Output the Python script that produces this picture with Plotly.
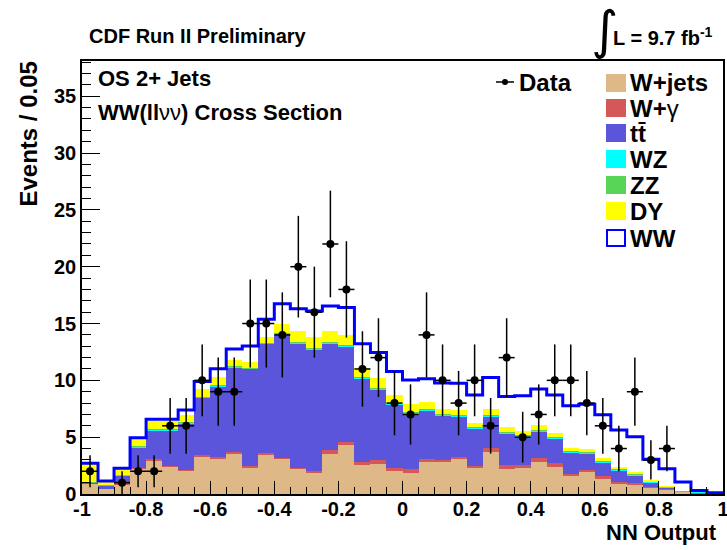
import numpy as np
import plotly.graph_objects as go

# ---------------- data (40 bins of width 0.05 on [-1, 1]) ----------------
bin_edges = np.round(np.linspace(-1.0, 1.0, 41), 4)
bin_centers = 0.5 * (bin_edges[:-1] + bin_edges[1:])
bin_width = 0.05

data_counts = [2, 0, 1, 2, 2, 6, 6, 10, 9, 9,
               15, 15, 14, 20, 16, 22, 18, 11, 12, 8,
               7, 14, 10, 8, 10, 6, 12, 5, 7, 10,
               10, 8, 6, 4, 9, 3, 4, 0, 0, 0]

wjets = [0.94, 0.44, 0.85, 2.23, 2.93, 2.40, 2.08, 3.29, 3.14, 3.58,
         2.26, 3.49, 3.08, 2.20, 1.82, 3.52, 4.31, 2.55, 2.64, 2.05,
         1.88, 2.79, 2.79, 3.05, 2.26, 3.67, 2.17, 2.26, 2.85, 2.40,
         1.61, 1.97, 1.32, 0.94, 0.82, 0.56, 0.38, 0.18, 0.08, 0.04]

wgamma = [0.00, 0.01, 0.02, 0.08, 0.12, 0.06, 0.04, 0.11, 0.12, 0.10,
          0.22, 0.12, 0.12, 0.09, 0.18, 0.35, 0.24, 0.24, 0.32, 0.24,
          0.35, 0.26, 0.20, 0.21, 0.20, 0.38, 0.35, 0.29, 0.35, 0.33,
          0.18, 0.17, 0.26, 0.15, 0.15, 0.09, 0.06, 0.02, 0.01, 0.00]

ttbar = [0.04, 0.27, 0.78, 1.77, 2.55, 3.14, 4.10, 5.05, 6.24, 7.44,
         8.52, 9.59, 10.85, 10.93, 10.72, 9.35, 8.41, 7.38, 6.24, 5.55,
         4.87, 4.31, 3.94, 3.57, 3.32, 2.80, 2.84, 2.50, 2.33, 2.17,
         1.86, 1.42, 1.22, 1.01, 0.69, 0.39, 0.14, 0.02, 0.01, 0.00]

wz = [0.02, 0.02, 0.04, 0.08, 0.08, 0.08, 0.08, 0.08, 0.08, 0.08,
      0.08, 0.08, 0.08, 0.08, 0.08, 0.08, 0.08, 0.08, 0.08, 0.08,
      0.08, 0.08, 0.08, 0.08, 0.08, 0.08, 0.08, 0.08, 0.08, 0.08,
      0.08, 0.08, 0.08, 0.08, 0.08, 0.06, 0.05, 0.02, 0.01, 0.00]

zz = [0.02, 0.01, 0.02, 0.04, 0.04, 0.04, 0.04, 0.04, 0.04, 0.04,
      0.04, 0.04, 0.04, 0.04, 0.04, 0.04, 0.04, 0.04, 0.04, 0.04,
      0.04, 0.04, 0.04, 0.04, 0.04, 0.04, 0.04, 0.04, 0.04, 0.04,
      0.04, 0.04, 0.04, 0.04, 0.04, 0.04, 0.05, 0.01, 0.00, 0.00]

dy = [1.62, 0.31, 0.46, 0.61, 0.73, 0.73, 0.61, 0.67, 0.68, 0.56,
      0.53, 0.53, 0.79, 0.96, 0.95, 1.01, 0.92, 0.77, 0.92, 0.75,
      0.70, 0.65, 0.43, 0.44, 0.38, 0.49, 0.42, 0.35, 0.42, 0.38,
      0.31, 0.31, 0.28, 0.19, 0.13, 0.06, 0.02, 0.00, 0.00, 0.00]

ww = [0.06, 0.08, 0.09, 0.15, 0.13, 0.13, 0.44, 0.65, 0.73, 0.96,
      1.38, 1.53, 1.77, 1.99, 2.32, 2.20, 2.40, 2.17, 2.20, 2.06,
      2.12, 2.02, 2.29, 2.35, 2.43, 2.78, 2.67, 3.13, 3.17, 3.31,
      3.69, 3.91, 3.78, 3.22, 3.13, 1.85, 1.53, 0.81, 0.19, 0.07]

x_tick_vals = [-1, -0.8, -0.6, -0.4, -0.2, 0, 0.2, 0.4, 0.6, 0.8, 1]
x_tick_text = ["-1", "-0.8", "-0.6", "-0.4", "-0.2", "0", "0.2", "0.4", "0.6", "0.8", "1"]
y_tick_vals = [0, 5, 10, 15, 20, 25, 30, 35]

# ---------------- styling ----------------
W, H = 727, 550
L_M, R_M, T_M, B_M = 82, 4, 61, 56
PW, PH = W - L_M - R_M, H - T_M - B_M
FONT = "Liberation Sans, Arial, sans-serif"

C_WJ = "rgb(222,185,135)"
C_WG = "rgb(212,88,88)"
C_TT = "rgb(90,85,218)"
C_WZ = "rgb(0,255,255)"
C_ZZ = "rgb(88,212,86)"
C_DY = "rgb(255,255,0)"
C_WW = "rgb(0,0,255)"


def px(xp):
    return (xp - L_M) / PW


def py(yp):
    return (H - B_M - yp) / PH


fig = go.Figure()

stack = [("W+jets", wjets, C_WJ), ("W+γ", wgamma, C_WG), ("tt̄", ttbar, C_TT),
         ("WZ", wz, C_WZ), ("ZZ", zz, C_ZZ), ("DY", dy, C_DY)]
for name, vals, col in stack:
    fig.add_trace(go.Bar(x=bin_centers, y=vals, width=bin_width, name=name,
                         marker=dict(color=col, line=dict(width=0)),
                         showlegend=False, hoverinfo="skip"))

total = np.sum([wjets, wgamma, ttbar, wz, zz, dy, ww], axis=0)
fig.add_trace(go.Scatter(x=bin_edges, y=list(total) + [total[-1]], mode="lines",
                         line=dict(color=C_WW, width=3, shape="hv"),
                         name="WW", showlegend=False, hoverinfo="skip"))

counts = np.array(data_counts, dtype=float)
y_pts = [c if c > 0 else None for c in data_counts]
fig.add_trace(go.Scatter(x=bin_centers, y=y_pts, mode="markers", name="Data",
                         marker=dict(color="black", size=8),
                         error_y=dict(type="data", array=np.sqrt(counts), width=0,
                                      thickness=1.5, color="black"),
                         error_x=dict(type="constant", value=bin_width / 2, width=0,
                                      thickness=1.5, color="black"),
                         showlegend=False))

# ---------------- annotations ----------------
ann = []
shapes = []


def text(x, y, s, size, xanchor="left", yanchor="middle", angle=0):
    ann.append(dict(x=px(x), y=py(y), xref="paper", yref="paper", text=s,
                    showarrow=False, xanchor=xanchor, yanchor=yanchor,
                    textangle=angle, font=dict(family=FONT, size=size, color="black")))


text(87, 36, "<b>CDF Run II Preliminary</b>", 20)
ann.append(dict(x=px(604), y=py(30), xref="paper", yref="paper", text="∫",
                showarrow=False, xanchor="center", yanchor="middle",
                font=dict(family="DejaVu Sans, sans-serif", size=52, color="black")))
text(611, 37, "<b>L = 9.7 fb<sup>-1</sup></b>", 20)
text(96, 79, "<b>OS 2+ Jets</b>", 22)
text(96, 112, "<b>WW(ll</b>νν<b>) Cross Section</b>", 22)
text(28, 60, "<b>Events / 0.05</b>", 24, xanchor="center", yanchor="top", angle=-90)
text(719, 532, "<b>NN Output</b>", 22, xanchor="right")

# legend (drawn by hand to match the compact ROOT legend)
shapes.append(dict(type="line", xref="paper", yref="paper",
                   x0=px(496), x1=px(514), y0=py(82), y1=py(82),
                   line=dict(color="black", width=1.5)))
shapes.append(dict(type="circle", xref="paper", yref="paper",
                   x0=px(502), x1=px(508), y0=py(85), y1=py(79),
                   fillcolor="black", line=dict(color="black", width=0)))
text(517, 82, "<b>Data</b>", 24)

leg_rows = [("<b>W+jets</b>", C_WJ, 83), ("<b>W+</b>γ", C_WG, 108),
            ("<b>tt̄</b>", C_TT, 133), ("<b>WZ</b>", C_WZ, 159),
            ("<b>ZZ</b>", C_ZZ, 185), ("<b>DY</b>", C_DY, 211), ("<b>WW</b>", None, 238)]
for label, col, yc in leg_rows:
    if col is None:
        shapes.append(dict(type="rect", xref="paper", yref="paper",
                           x0=px(607), x1=px(625), y0=py(yc + 8), y1=py(yc - 8),
                           fillcolor="white", line=dict(color=C_WW, width=2)))
    else:
        shapes.append(dict(type="rect", xref="paper", yref="paper",
                           x0=px(606), x1=px(626), y0=py(yc + 9), y1=py(yc - 9),
                           fillcolor=col, line=dict(width=0)))
    text(628, yc, label, 24)

fig.update_layout(
    width=W, height=H,
    margin=dict(l=L_M, r=R_M, t=T_M, b=B_M, pad=0, autoexpand=False),
    paper_bgcolor="white", plot_bgcolor="white",
    barmode="stack", bargap=0,
    showlegend=False,
    annotations=ann, shapes=shapes,
    font=dict(family=FONT, color="black"),
)

fig.update_xaxes(range=[-1, 1], showgrid=False, zeroline=False, automargin=False,
                 showline=True, mirror=True, linecolor="black", linewidth=1.5,
                 ticks="inside", ticklen=13, tickwidth=1.2, tickcolor="black",
                 tickmode="array", tickvals=x_tick_vals, ticktext=x_tick_text,
                 ticklabelstandoff=-4, ticklabeloverflow="allow",
                 tickfont=dict(family=FONT, size=20, color="black", weight="bold"),
                 minor=dict(ticks="inside", ticklen=7, tickwidth=1.2, tickcolor="black",
                            tickmode="array", tickvals=list(bin_edges), showgrid=False))
fig.update_yaxes(range=[0, 38.1], showgrid=False, zeroline=False, automargin=False,
                 showline=True, mirror=True, linecolor="black", linewidth=1.5,
                 ticks="inside", ticklen=18, tickwidth=1.2, tickcolor="black",
                 tickmode="array", tickvals=y_tick_vals,
                 tickfont=dict(family=FONT, size=20, color="black", weight="bold"),
                 minor=dict(ticks="inside", ticklen=9, tickwidth=1.2, tickcolor="black",
                            dtick=1, tick0=0, showgrid=False))

fig.write_html("out.html", config={"displayModeBar": False},
               post_script="document.body.style.margin='0';document.body.style.overflow='hidden';")
